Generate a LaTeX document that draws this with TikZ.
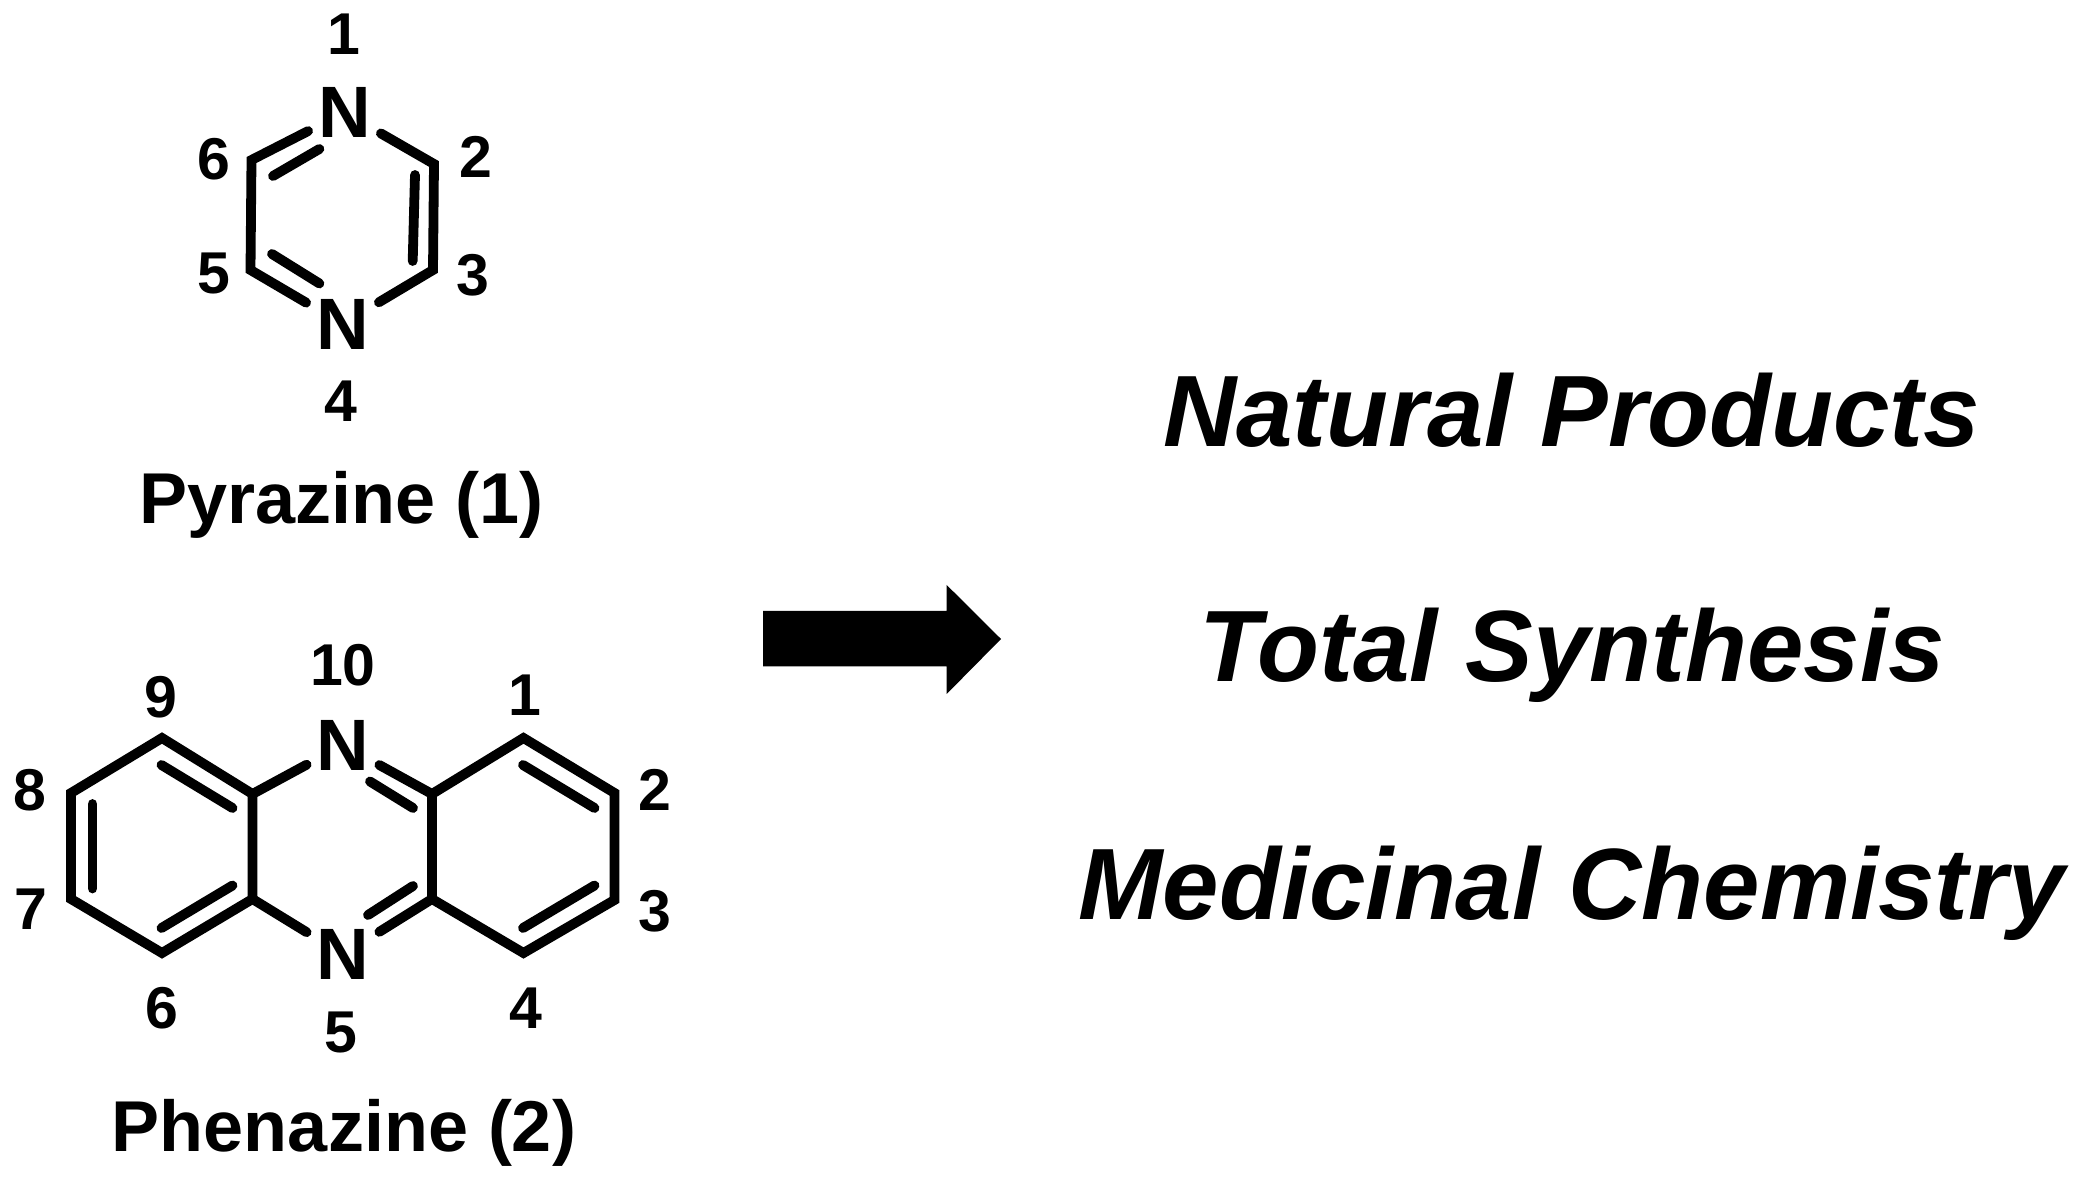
\documentclass[tikz,border=0pt]{standalone}
\usepackage{fontspec}
\setmainfont{Liberation Sans}
\usepackage{tikz}
\tikzset{
 atomlabel/.style={inner sep=0pt,minimum width=36pt,minimum height=30pt,font=\bfseries\fontsize{36.4}{40}\selectfont},
 numlabel/.style={inner sep=0pt,font=\bfseries\fontsize{29.5}{32}\selectfont},
 namelabel/.style={inner sep=0pt,anchor=base,font=\bfseries\fontsize{36}{40}\selectfont},
 fieldlabel/.style={inner sep=0pt,anchor=base,font=\bfseries\itshape\fontsize{50.7}{54}\selectfont},
 bond/.style={line width=4.9pt,line cap=round,line join=miter,miter limit=10},
}

\begin{document}
\begin{tikzpicture}[x=0.5pt,y=-0.5pt]
 \useasboundingbox (0,0) rectangle (2084,1186);

 % pyrazine
 \node[atomlabel] (pyrN1) at (344.5,112.5) {N};
 \node[atomlabel] (pyrN4) at (342.5,324) {N};
 \coordinate (pyrC2) at (434,164);
 \coordinate (pyrC3) at (433,270);
 \coordinate (pyrC5) at (250.5,270);
 \coordinate (pyrC6) at (251.5,160);
 \coordinate (pyrA1) at (319.4,149);
 \coordinate (pyrA2) at (273,176);
 \coordinate (pyrB1) at (415,175);
 \coordinate (pyrB2) at (412.7,261);
 \coordinate (pyrD1) at (319.4,283.5);
 \coordinate (pyrD2) at (272,254);
 \draw[bond] (pyrN1) -- (pyrC6) -- (pyrC5) -- (pyrN4);
 \draw[bond] (pyrN1) -- (pyrC2) -- (pyrC3) -- (pyrN4);
 \draw[bond] (pyrA1) -- (pyrA2);
 \draw[bond] (pyrB1) -- (pyrB2);
 \draw[bond] (pyrD1) -- (pyrD2);

 \node[numlabel] (pyrL1) at (344,34.6) {1};
 \node[numlabel] (pyrL2) at (476,157) {2};
 \node[numlabel] (pyrL3) at (473,275) {3};
 \node[numlabel] (pyrL4) at (341,401) {4};
 \node[numlabel] (pyrL5) at (214,274) {5};
 \node[numlabel] (pyrL6) at (214,159.5) {6};
 \node[namelabel] (pyrName) at (341.5,524) {Pyrazine (1)};

 % phenazine
 \node[atomlabel] (phnN10) at (343,745) {N};
 \node[atomlabel] (phnN5) at (343,954.5) {N};
 \coordinate (phnC9) at (162,738);
 \coordinate (phnC8) at (71,793);
 \coordinate (phnC7) at (71,899);
 \coordinate (phnC6) at (162,953);
 \coordinate (phnC5a) at (252.5,899);
 \coordinate (phnC9a) at (252.5,794);
 \coordinate (phnC10a) at (432,794);
 \coordinate (phnC1) at (523.5,738);
 \coordinate (phnC2) at (614.5,793);
 \coordinate (phnC3) at (614.5,900);
 \coordinate (phnC4) at (523.5,953);
 \coordinate (phnC4a) at (432,899);
 \coordinate (phnA1) at (161.5,765);
 \coordinate (phnA2) at (232.5,808);
 \coordinate (phnB1) at (92.5,804);
 \coordinate (phnB2) at (92.5,888.5);
 \coordinate (phnD1) at (161.5,928);
 \coordinate (phnD2) at (232.5,885.5);
 \coordinate (phnE1) at (370,781.5);
 \coordinate (phnE2) at (413,808);
 \coordinate (phnF1) at (368,915);
 \coordinate (phnF2) at (413,886);
 \coordinate (phnG1) at (523,765);
 \coordinate (phnG2) at (594.5,808);
 \coordinate (phnH1) at (594.5,885.5);
 \coordinate (phnH2) at (523,928);
 \draw[bond] (phnC9a) -- (phnC9) -- (phnC8) -- (phnC7) -- (phnC6) -- (phnC5a) -- cycle;
 \draw[bond] (phnC10a) -- (phnC1) -- (phnC2) -- (phnC3) -- (phnC4) -- (phnC4a) -- cycle;
 \draw[bond] (phnC9a) -- (phnN10);
 \draw[bond] (phnC5a) -- (phnN5);
 \draw[bond] (phnN10) -- (phnC10a);
 \draw[bond] (phnN5) -- (phnC4a);
 \draw[bond] (phnA1) -- (phnA2);
 \draw[bond] (phnB1) -- (phnB2);
 \draw[bond] (phnD1) -- (phnD2);
 \draw[bond] (phnE1) -- (phnE2);
 \draw[bond] (phnF1) -- (phnF2);
 \draw[bond] (phnG1) -- (phnG2);
 \draw[bond] (phnH1) -- (phnH2);

 \node[numlabel] (phnL10) at (343,665) {10};
 \node[numlabel] (phnL9) at (160.6,697) {9};
 \node[numlabel] (phnL1) at (525,695) {1};
 \node[numlabel] (phnL8) at (29.5,790) {8};
 \node[numlabel] (phnL2) at (655,790) {2};
 \node[numlabel] (phnL7) at (31.4,909) {7};
 \node[numlabel] (phnL3) at (655,911) {3};
 \node[numlabel] (phnL6) at (161.5,1008) {6};
 \node[numlabel] (phnL4) at (525.5,1008) {4};
 \node[numlabel] (phnL5) at (341,1032) {5};
 \node[namelabel] (phnName) at (344,1151) {Phenazine (2)};

 % block arrow
 \fill[black] (763,611) -- (946.7,611) -- (946.7,585) -- (1001,639) -- (946.7,694) -- (946.7,666.5) -- (763,666.5) -- cycle;

 % fields
 \node[fieldlabel] (natural) at (1571.5,446.5) {Natural Products};
 \node[fieldlabel] (total) at (1572,682) {Total Synthesis};
 \node[fieldlabel] (medicinal) at (1571.5,919.6) {Medicinal Chemistry};
\end{tikzpicture}
\end{document}
